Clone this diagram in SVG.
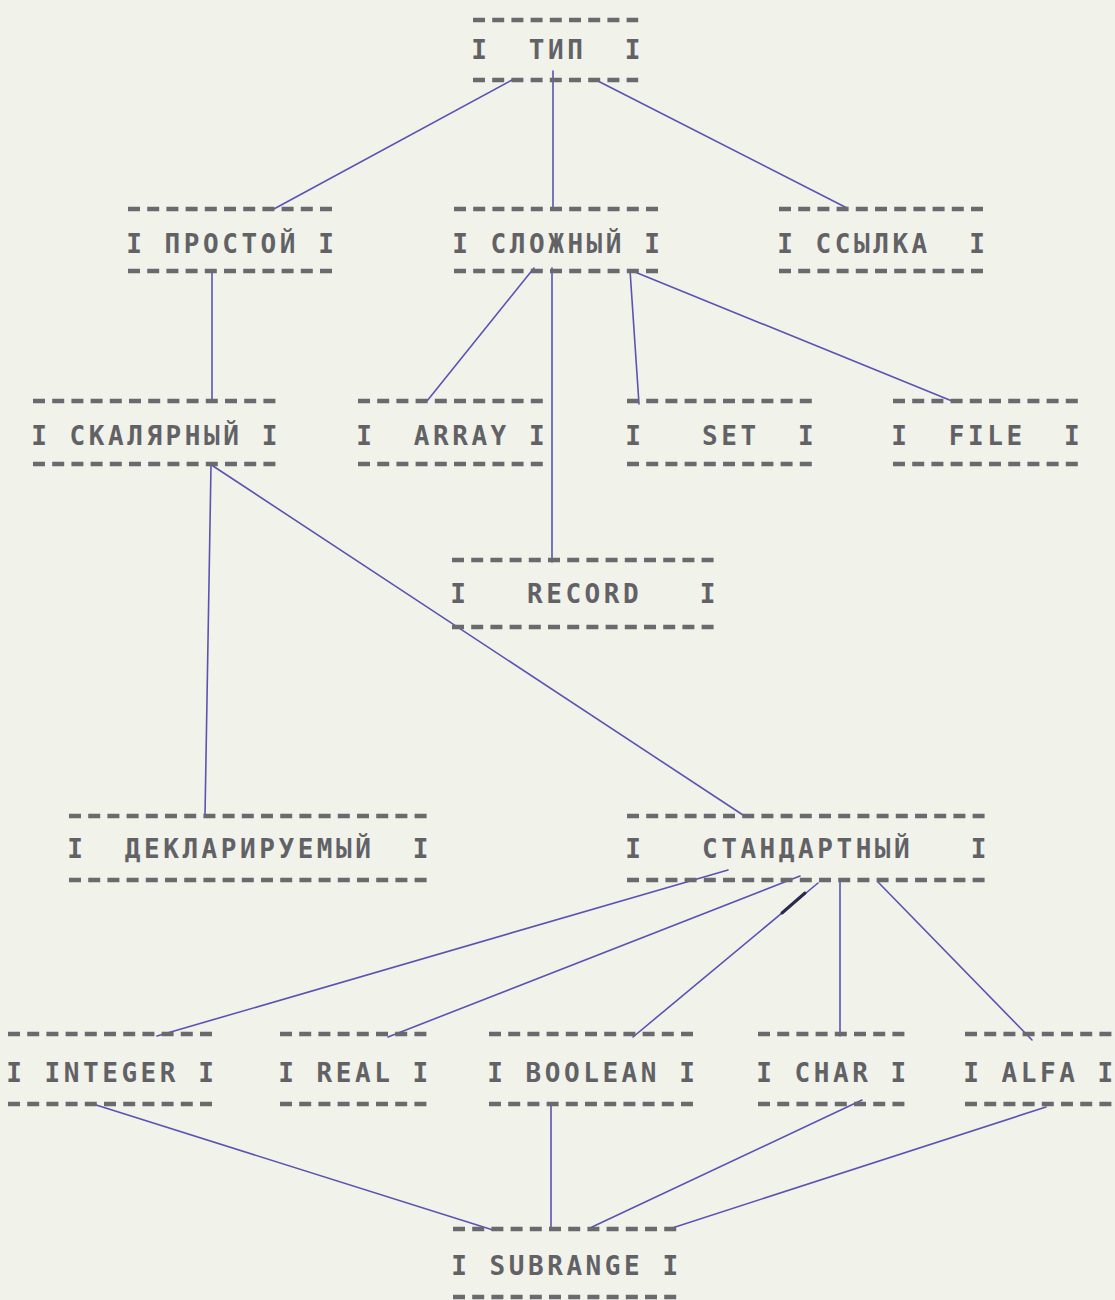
<svg xmlns="http://www.w3.org/2000/svg" width="1115" height="1300" viewBox="0 0 1115 1300">
<style>
.bg{fill:#f1f2ea}
.t{font-family:"DejaVu Sans Mono","Liberation Mono",monospace;font-weight:bold;font-size:26px;letter-spacing:3.55px;fill:#626266;white-space:pre}
.d{stroke:#6a6a6e;stroke-width:4.5;stroke-dasharray:12 7.2;fill:none}
.c{stroke:#5a53b3;stroke-width:1.6;fill:none;stroke-linecap:round}
</style>
<rect class="bg" x="0" y="0" width="1115" height="1300"/>
<g id="connectors">
<line class="c" x1="512" y1="80" x2="272" y2="210"/>
<line class="c" x1="553" y1="71" x2="553" y2="210"/>
<line class="c" x1="594" y1="79" x2="847" y2="208"/>
<line class="c" x1="212" y1="271" x2="212" y2="402"/>
<line class="c" x1="534" y1="268" x2="427" y2="401"/>
<line class="c" x1="552" y1="268" x2="552" y2="562"/>
<line class="c" x1="630" y1="270" x2="639" y2="404"/>
<line class="c" x1="630" y1="270" x2="952" y2="401"/>
<path class="c" d="M211 466 L205 816 L212 816"/>
<line class="c" x1="213" y1="466" x2="746" y2="817"/>
<line class="c" x1="728" y1="870" x2="157" y2="1036"/>
<line class="c" x1="800" y1="876" x2="388" y2="1037"/>
<line class="c" x1="818" y1="883" x2="633" y2="1037"/>
<line x1="805" y1="893" x2="782" y2="913" stroke="#2a2a4a" stroke-width="3" stroke-linecap="round"/>
<line class="c" x1="840" y1="880" x2="840" y2="1036"/>
<line class="c" x1="878" y1="882" x2="1032" y2="1040"/>
<line class="c" x1="93" y1="1104" x2="493" y2="1230"/>
<path class="c" d="M557 1104 L551 1104 L551 1227"/>
<line class="c" x1="862" y1="1100" x2="592" y2="1227"/>
<line class="c" x1="1046" y1="1107" x2="666" y2="1230"/>
</g>
<g id="n-tip">
<line class="d" x1="473" y1="20" x2="638.2" y2="20"/>
<text class="t" x="471.2" y="58.5" xml:space="preserve">I  ТИП  I</text>
<line class="d" x1="473" y1="80" x2="638.2" y2="80"/>
</g>
<g id="n-prostoy">
<line class="d" x1="128" y1="209" x2="332" y2="209"/>
<text class="t" x="126.2" y="252.5" xml:space="preserve">I ПРОСТОЙ I</text>
<line class="d" x1="128" y1="271" x2="332" y2="271"/>
</g>
<g id="n-slozhny">
<line class="d" x1="454" y1="209" x2="658" y2="209"/>
<text class="t" x="452.2" y="252.5" xml:space="preserve">I СЛОЖНЫЙ I</text>
<line class="d" x1="454" y1="271" x2="658" y2="271"/>
</g>
<g id="n-ssylka">
<line class="d" x1="779" y1="209" x2="983" y2="209"/>
<text class="t" x="777.2" y="252.5" xml:space="preserve">I ССЫЛКА  I</text>
<line class="d" x1="779" y1="271" x2="983" y2="271"/>
</g>
<g id="n-skalyarny">
<line class="d" x1="33" y1="401" x2="275.4" y2="401"/>
<text class="t" x="31.2" y="444.5" xml:space="preserve">I СКАЛЯРНЫЙ I</text>
<line class="d" x1="33" y1="464" x2="275.4" y2="464"/>
</g>
<g id="n-array">
<line class="d" x1="358" y1="401" x2="542.8" y2="401"/>
<text class="t" x="356.2" y="444.5" xml:space="preserve">I  ARRAY I</text>
<line class="d" x1="358" y1="464" x2="542.8" y2="464"/>
</g>
<g id="n-set">
<line class="d" x1="627" y1="401" x2="811.8" y2="401"/>
<text class="t" x="625.2" y="444.5" xml:space="preserve">I   SET  I</text>
<line class="d" x1="627" y1="464" x2="811.8" y2="464"/>
</g>
<g id="n-file">
<line class="d" x1="893" y1="401" x2="1077.8" y2="401"/>
<text class="t" x="891.2" y="444.5" xml:space="preserve">I  FILE  I</text>
<line class="d" x1="893" y1="464" x2="1077.8" y2="464"/>
</g>
<g id="n-record">
<line class="d" x1="452" y1="560" x2="713.6" y2="560"/>
<text class="t" x="450.2" y="602.5" xml:space="preserve">I   RECORD   I</text>
<line class="d" x1="452" y1="627" x2="713.6" y2="627"/>
</g>
<g id="n-deklariruemy">
<line class="d" x1="69" y1="816" x2="426.6" y2="816"/>
<text class="t" x="67.2" y="857.5" xml:space="preserve">I  ДЕКЛАРИРУЕМЫЙ  I</text>
<line class="d" x1="69" y1="880" x2="426.6" y2="880"/>
</g>
<g id="n-standartny">
<line class="d" x1="627" y1="816" x2="984.6" y2="816"/>
<text class="t" x="625.2" y="857.5" xml:space="preserve">I   СТАНДАРТНЫЙ   I</text>
<line class="d" x1="627" y1="880" x2="984.6" y2="880"/>
</g>
<g id="n-integer">
<line class="d" x1="8" y1="1034" x2="212" y2="1034"/>
<text class="t" x="6.2" y="1081.5" xml:space="preserve">I INTEGER I</text>
<line class="d" x1="8" y1="1104" x2="212" y2="1104"/>
</g>
<g id="n-real">
<line class="d" x1="280" y1="1034" x2="426.4" y2="1034"/>
<text class="t" x="278.2" y="1081.5" xml:space="preserve">I REAL I</text>
<line class="d" x1="280" y1="1104" x2="426.4" y2="1104"/>
</g>
<g id="n-boolean">
<line class="d" x1="489" y1="1034" x2="693" y2="1034"/>
<text class="t" x="487.2" y="1081.5" xml:space="preserve">I BOOLEAN I</text>
<line class="d" x1="489" y1="1104" x2="693" y2="1104"/>
</g>
<g id="n-char">
<line class="d" x1="758" y1="1034" x2="904.4" y2="1034"/>
<text class="t" x="756.2" y="1081.5" xml:space="preserve">I CHAR I</text>
<line class="d" x1="758" y1="1104" x2="904.4" y2="1104"/>
</g>
<g id="n-alfa">
<line class="d" x1="965" y1="1034" x2="1111.4" y2="1034"/>
<text class="t" x="963.2" y="1081.5" xml:space="preserve">I ALFA I</text>
<line class="d" x1="965" y1="1104" x2="1111.4" y2="1104"/>
</g>
<g id="n-subrange">
<line class="d" x1="453" y1="1229" x2="676.2" y2="1229"/>
<text class="t" x="451.2" y="1274.5" xml:space="preserve">I SUBRANGE I</text>
<line class="d" x1="453" y1="1297" x2="676.2" y2="1297"/>
</g>
</svg>
